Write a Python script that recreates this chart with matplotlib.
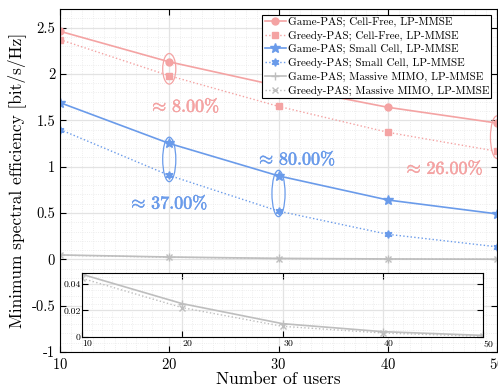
import matplotlib
matplotlib.use('Agg')
import matplotlib.pyplot as plt
import matplotlib.patheffects as pe
from matplotlib.patches import Ellipse
from matplotlib.ticker import MultipleLocator

plt.rcParams['font.family'] = 'serif'
plt.rcParams['font.serif'] = ['cmr10']
plt.rcParams['mathtext.fontset'] = 'cm'
plt.rcParams['axes.unicode_minus'] = False
plt.rcParams['axes.formatter.use_mathtext'] = True

# data
users = [10, 20, 30, 40, 50]
game_cf = [2.46, 2.13, 1.87, 1.64, 1.47]
greedy_cf = [2.37, 1.98, 1.65, 1.37, 1.165]
game_sc = [1.69, 1.25, 0.90, 0.64, 0.49]
greedy_sc = [1.40, 0.905, 0.52, 0.27, 0.135]
game_mm = [0.047, 0.025, 0.010, 0.004, 0.0012]
greedy_mm = [0.044, 0.022, 0.008, 0.003, 0.0005]

labels = ['Game-PAS; Cell-Free, LP-MMSE', 'Greedy-PAS; Cell-Free, LP-MMSE',
          'Game-PAS; Small Cell, LP-MMSE', 'Greedy-PAS; Small Cell, LP-MMSE',
          'Game-PAS; Massive MIMO, LP-MMSE', 'Greedy-PAS; Massive MIMO, LP-MMSE']
yticks = [-1, -0.5, 0, 0.5, 1, 1.5, 2, 2.5]
ytick_labels = ['-1', '-0.5', '0', '0.5', '1', '1.5', '2', '2.5']
xticks = [10, 20, 30, 40, 50]

red = '#F4A3A3'
blue = '#6A9BEA'
gray = '#BEBEBE'

fig = plt.figure(figsize=(4.98, 3.87), dpi=100)
ax = fig.add_axes([0.1205, 0.0904, 0.8775, 0.8863])

ax.plot(users, game_cf, '-', color=red, lw=1.2, marker='o', ms=5, label=labels[0])
ax.plot(users, greedy_cf, ':', color=red, lw=1.0, marker='s', ms=4.5, label=labels[1])
ax.plot(users, game_sc, '-', color=blue, lw=1.2, marker='*', ms=7, label=labels[2])
ax.plot(users, greedy_sc, ':', color=blue, lw=1.0, marker=(6, 1, 0), ms=5.5, label=labels[3])
ax.plot(users, game_mm, '-', color=gray, lw=1.2, marker='+', ms=6, label=labels[4])
ax.plot(users, greedy_mm, ':', color=gray, lw=1.0, marker='x', ms=4, label=labels[5])

# ellipses around compared points
pairs = [(20, game_cf, greedy_cf, red, 0.33), (20, game_sc, greedy_sc, blue, 0.48),
         (30, game_sc, greedy_sc, blue, 0.50), (50, game_cf, greedy_cf, red, 0.46)]
for xv, a, b, c, h in pairs:
    i = users.index(xv)
    ax.add_patch(Ellipse((xv, (a[i] + b[i]) / 2), 1.2, h, fill=False, ec=c, lw=0.9))

tk = dict(fontsize=13, ha='center', va='center')
for s, x, y, c in [('8.00', 21.4, 1.66, red), ('37.00', 19.9, 0.615, blue),
                   ('80.00', 31.6, 1.09, blue), ('26.00', 45.1, 0.99, red)]:
    t = ax.text(x, y, r'${\approx}\,\mathbf{' + s + r'\%}$', color=c, **tk)
    t.set_path_effects([pe.Stroke(linewidth=0.4, foreground=c), pe.Normal()])

ax.set_xlim(10, 50)
ax.set_ylim(-1, 2.7)
ax.set_xticks(xticks)
ax.set_yticks(yticks)
ax.set_yticklabels(ytick_labels)
ax.xaxis.set_minor_locator(MultipleLocator(1))
ax.yaxis.set_minor_locator(MultipleLocator(0.1))
ax.grid(True, which='major', color='#E3E3E3', lw=0.9)
ax.grid(True, which='minor', color='#E8E8E8', lw=0.6, ls=':')
ax.set_axisbelow(True)
ax.tick_params(which='major', direction='in', top=True, right=True, length=4, labelsize=10.5)
ax.tick_params(which='minor', length=0)
ax.set_xlabel('Number of users', fontsize=12.5, labelpad=0)
ax.set_ylabel('Minimum spectral efficiency [bit/s/Hz]', fontsize=12.5, labelpad=4)

leg = ax.legend(loc='upper right', fontsize=8.0, fancybox=False, edgecolor='black',
                framealpha=1, handlelength=1.9, handletextpad=0.2, labelspacing=0.32,
                borderpad=0.2, borderaxespad=0.5)
leg.get_frame().set_linewidth(0.8)

# inset zoom of massive MIMO
ins = fig.add_axes([0.1647, 0.1292, 0.8052, 0.1654])
ins.plot(users, game_mm, '-', color=gray, lw=1.2, marker='+', ms=6)
ins.plot(users, greedy_mm, ':', color=gray, lw=1.0, marker='x', ms=4)
ins.set_xlim(10, 50)
ins.set_ylim(0, 0.048)
ins.set_xticks(xticks)
ins.set_yticks([0, 0.02, 0.04])
ins.set_yticklabels(['0', '0.02', '0.04'])
ins.xaxis.set_minor_locator(MultipleLocator(1))
ins.yaxis.set_minor_locator(MultipleLocator(0.005))
ins.grid(True, which='major', color='#E3E3E3', lw=0.9)
ins.grid(True, which='minor', color='#E8E8E8', lw=0.6, ls=':')
ins.tick_params(which='major', direction='in', top=True, right=True, length=4,
                labelsize=7, pad=1)
ins.tick_params(which='minor', length=0)
for lab in ins.get_xticklabels():
    lab.set_horizontalalignment('left')

fig.savefig('out.png', dpi=100)
